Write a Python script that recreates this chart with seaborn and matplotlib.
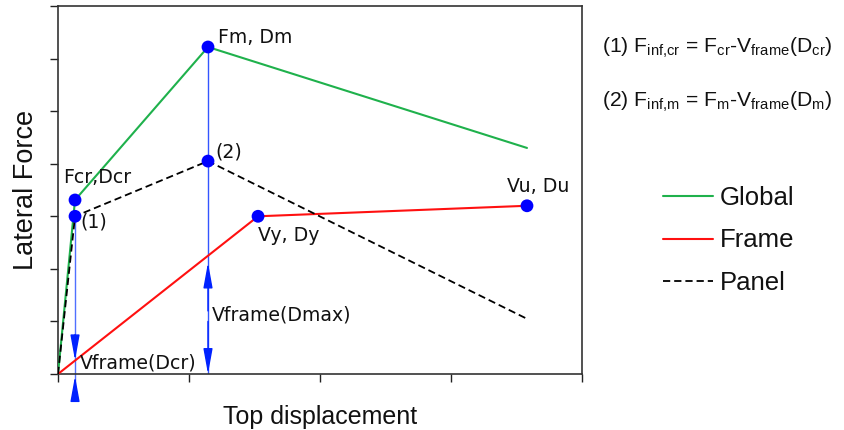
import matplotlib
matplotlib.use("Agg")
import matplotlib.pyplot as plt
import seaborn as sns
import pandas as pd

# ---- data ----
global_x = [0.0, 0.13, 1.145, 3.58]
global_y = [0.0, 3.31, 6.22, 4.30]
frame_x = [0.0, 1.527, 3.58]
frame_y = [0.0, 3.00, 3.20]
panel_x = [0.0, 0.13, 1.145, 3.58]
panel_y = [0.0, 3.00, 4.05, 1.05]

point_x = [0.13, 0.13, 1.145, 1.145, 1.527, 3.58]
point_y = [3.31, 3.00, 6.22, 4.05, 3.00, 3.20]

D_cr = 0.13
D_m = 1.145
vframe_cr = 0.26
vframe_m = 2.12

series_names = ["Global", "Frame", "Panel"]
series_colors = ["#1fb14c", "#ff1010", "#000000"]

x_ticks = [0, 1, 2, 3, 4]
y_ticks = [0, 1, 2, 3, 4, 5, 6, 7]

sns.set_theme(style="white")
plt.rcParams["font.family"] = ["DejaVu Sans"]
plt.rcParams["text.color"] = "#111111"

fig = plt.figure(figsize=(8.44, 4.30), dpi=100)
ax = fig.add_axes([58 / 844, 1 - 374 / 430, (582 - 58) / 844, (374 - 6) / 430])

sns.lineplot(x=global_x, y=global_y, ax=ax, color=series_colors[0], lw=1.5,
             label=series_names[0], sort=False, zorder=3)
sns.lineplot(x=frame_x, y=frame_y, ax=ax, color=series_colors[1], lw=1.5,
             label=series_names[1], sort=False, zorder=3)
sns.lineplot(x=panel_x, y=panel_y, ax=ax, color=series_colors[2], lw=1.3,
             label=series_names[2], sort=False, zorder=3, linestyle=(0, (4, 2.2)))

# blue vertical guide lines
blue = "#0022ff"
ax.plot([D_cr, D_cr], [panel_y[1], -0.38], color="#5070ff", lw=1.0, zorder=2, clip_on=False)
ax.plot([D_m, D_m], [global_y[2], 0], color="#3355ff", lw=1.0, zorder=2)

arrow_kw = dict(arrowstyle="-|>,head_length=1.1,head_width=0.2", color=blue,
                lw=1.0, mutation_scale=14, shrinkA=0, shrinkB=0)
# outside arrows at D_cr
ax.annotate("", xy=(D_cr, vframe_cr), xytext=(D_cr, 0.75), arrowprops=arrow_kw,
            annotation_clip=False)
ax.annotate("", xy=(D_cr, -0.04), xytext=(D_cr, -0.38), arrowprops=arrow_kw,
            annotation_clip=False)
# double arrow at D_m
ax.annotate("", xy=(D_m, vframe_m), xytext=(D_m, 1.2), arrowprops=arrow_kw)
ax.annotate("", xy=(D_m, 0.0), xytext=(D_m, 1.0), arrowprops=arrow_kw)

sns.scatterplot(x=point_x, y=point_y, ax=ax, color="#0000ff", s=85,
                edgecolor="none", zorder=5, legend=False)

lab_fs = 13.6
ax.text(1.22, 6.41, "Fm, Dm", fontsize=lab_fs, va="center", ha="left")
ax.text(0.04, 3.73, "Fcr,Dcr", fontsize=lab_fs, va="center", ha="left")
ax.text(0.168, 2.89, "(1)", fontsize=lab_fs, va="center", ha="left")
ax.text(1.2, 4.22, "(2)", fontsize=lab_fs, va="center", ha="left")
ax.text(1.527, 2.64, "Vy, Dy", fontsize=lab_fs, va="center", ha="left")
ax.text(3.43, 3.56, "Vu, Du", fontsize=lab_fs, va="center", ha="left")
ax.text(1.175, 1.12, "Vframe(Dmax)", fontsize=lab_fs, va="center", ha="left")
ax.text(0.168, 0.2, "Vframe(Dcr)", fontsize=lab_fs, va="center", ha="left")

ax.set_xlim(x_ticks[0], x_ticks[-1])
ax.set_ylim(y_ticks[0], y_ticks[-1])
ax.set_xticks(x_ticks)
ax.set_yticks(y_ticks)
ax.set_xticklabels([])
ax.set_yticklabels([])
ax.tick_params(axis="both", which="major", direction="out", length=6, width=1.0,
               color="#222222", bottom=True, left=True, top=False, right=False)
for sp in ax.spines.values():
    sp.set_color("#333333")
    sp.set_linewidth(1.2)

sans = ["Liberation Sans", "DejaVu Sans"]
ax.set_xlabel("Top displacement", fontsize=18, family=sans, labelpad=13, color="#111111")
ax.set_ylabel("Lateral Force", fontsize=19.5, family=sans, labelpad=4, color="#111111")

leg = ax.legend(loc="upper left", bbox_to_anchor=(663 / 844, 1 - 186 / 430),
                bbox_transform=fig.transFigure, frameon=False,
                prop={"family": sans, "size": 18.5}, handlelength=1.95,
                handletextpad=0.25, labelspacing=0.72, borderpad=0, borderaxespad=0)
for t in leg.get_texts():
    t.set_color("#111111")

eq_fs = 15.2
fig.text(602 / 844, 1 - 48 / 430,
         r"(1) F$_\mathregular{inf{,}cr}$ = F$_\mathregular{cr}$-V$_\mathregular{frame}$(D$_\mathregular{cr}$)",
         fontsize=eq_fs, family=sans, va="center", ha="left", color="#111111")
fig.text(602 / 844, 1 - 102 / 430,
         r"(2) F$_\mathregular{inf{,}m}$ = F$_\mathregular{m}$-V$_\mathregular{frame}$(D$_\mathregular{m}$)",
         fontsize=eq_fs, family=sans, va="center", ha="left", color="#111111")

fig.savefig("out.png", dpi=100)
